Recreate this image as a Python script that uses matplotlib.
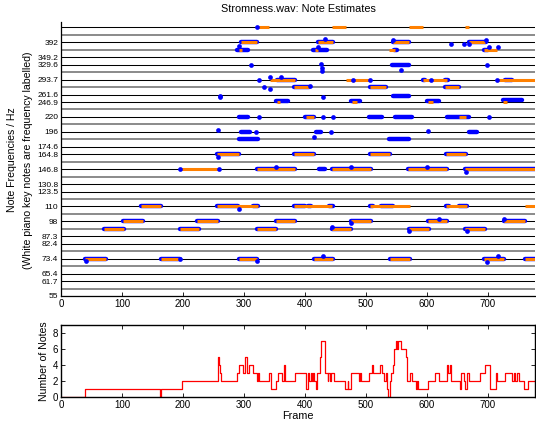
import matplotlib
matplotlib.use("Agg")
import matplotlib.pyplot as plt

plt.rcParams['font.family'] = ['Liberation Sans', 'DejaVu Sans']

# Detected notes: frequency (Hz), first frame, last frame
note_hz = [440, 440, 440, 440,
           392, 392, 392, 392,
           370, 370, 370, 370,
           293.7, 293.7, 293.7, 293.7,
           277.2, 277.2, 277.2,
           246.9, 246.9, 246.9, 246.9,
           220, 220,
           164.8, 164.8, 164.8, 164.8,
           146.8, 146.8, 146.8, 146.8, 146.8,
           110, 110, 110, 110, 110, 110,
           98, 98, 98, 98, 98, 98,
           92.5, 92.5, 92.5, 92.5, 92.5, 92.5,
           73.4, 73.4, 73.4, 73.4, 73.4, 73.4, 73.4]
note_on = [321, 445, 571, 662,
           295, 422, 545, 668,
           292, 416, 538, 694,
           342, 467, 593, 715,
           382, 506, 630,
           354, 477, 601, 725,
           401, 653,
           256, 382, 506, 631,
           195, 322, 445, 569, 662,
           131, 256, 382, 506, 631, 761,
           101, 223, 353, 475, 602, 727,
           71, 195, 322, 445, 570, 663,
           40, 164, 291, 414, 539, 694, 761]
note_off = [341, 467, 593, 668,
            322, 446, 571, 695,
            296, 422, 547, 714,
            384, 506, 633, 777,
            407, 533, 653,
            359, 485, 609, 731,
            415, 664,
            291, 415, 539, 664,
            259, 384, 508, 633, 777,
            164, 323, 445, 572, 665, 777,
            134, 258, 384, 508, 633, 761,
            103, 226, 353, 476, 603, 695,
            73, 195, 322, 446, 572, 727, 777]

# Raw pitch estimates: continuous runs (Hz, first frame, last frame)
run_hz = [392, 392, 392, 392,
          370, 370, 370, 370,
          329.6,
          293.7, 293.7, 293.7, 293.7,
          277.2, 277.2, 277.2,
          258,
          249, 249, 249, 250,
          220, 220, 220, 220, 220,
          196, 196, 196,
          185, 185,
          164.8, 164.8, 164.8, 164.8,
          146.8, 146.8, 146.8, 146.8, 146.8,
          110, 110, 110, 110, 110, 110, 110, 110, 110, 110,
          98, 98, 98, 98, 98, 98,
          92.5, 92.5, 92.5, 92.5, 92.5, 92.5,
          73.4, 73.4, 73.4, 73.4, 73.4, 73.4, 73.4]
run_on = [295, 422, 545, 668,
          288, 413, 546, 693,
          542,
          354, 593, 630, 728,
          382, 506, 630,
          545,
          352, 475, 600, 725,
          291, 400, 505, 548, 633,
          295, 418, 668,
          291, 537,
          256, 382, 506, 631,
          322, 423, 445, 569, 662,
          131, 256, 314, 382, 405, 440, 506, 524, 631, 652,
          101, 223, 353, 475, 602, 727,
          71, 195, 322, 445, 570, 663,
          40, 164, 291, 414, 539, 694, 761]
run_off = [322, 446, 571, 696,
           307, 436, 550, 700,
           570,
           384, 596, 634, 739,
           407, 533, 653,
           570,
           372, 490, 620, 755,
           307, 415, 526, 575, 668,
           310, 427, 682,
           323, 570,
           291, 415, 539, 664,
           384, 433, 508, 633, 777,
           164, 290, 323, 400, 410, 446, 512, 544, 636, 665,
           134, 258, 384, 508, 633, 761,
           103, 226, 353, 476, 603, 695,
           73, 195, 322, 446, 572, 727, 777]

# Raw pitch estimates: isolated points (Hz, frame)
dot_hz = [440, 403, 398, 388, 388, 388, 398,
          380, 377, 377, 377,
          329.6, 332, 322, 313, 315.5, 329.6,
          293.7, 299, 299, 293.7, 293.7, 293.7, 293.7,
          277.2, 273, 279,
          257, 259, 257,
          220, 220, 220, 220,
          199, 196, 196, 198,
          188, 161.5,
          146.8, 146.8, 149.3, 149.3, 149.3, 143.3,
          107.5, 99.7, 100, 96.5,
          91, 91, 94,
          72, 73.4, 72.2, 74.9, 71.5, 75.1]
dot_frame = [321, 432, 544, 639, 661, 669, 696,
             292, 422, 702, 717,
             311, 427, 428, 428, 558, 698,
             324, 343, 360, 479, 507, 606, 715,
             333, 343, 408,
             260, 261, 430,
             324, 430, 446, 702,
             258, 320, 442, 601,
             415, 258,
             195, 259, 352, 476, 600, 664,
             291, 619, 727, 475,
             571, 666, 445,
             41, 195, 322, 430, 698, 717]

# Number of simultaneous note estimates: frame where the count changes, new count
count_frames = [0, 40, 162, 164, 198, 257, 259, 261, 263, 289, 291, 298, 302, 305,
                308, 314, 321, 323, 325, 341, 344, 353, 356, 362, 366, 368, 384,
                402, 405, 407, 409, 411, 413, 415, 418, 420, 424, 426, 433, 437,
                438, 441, 443, 447, 465, 470, 471, 475, 489, 490, 491, 505, 509,
                511, 523, 527, 529, 533, 534, 536, 539, 541, 544, 546, 549, 551,
                553, 557, 566, 567, 572, 575, 582, 584, 586, 602, 613, 619, 632,
                635, 637, 640, 654, 656, 660, 662, 665, 668, 687, 695, 703, 713,
                715, 728, 739, 742, 744, 748, 751, 759, 766, 777]
count_values = [0, 1, 0, 1, 2, 5, 4, 3, 2, 3, 4, 3, 5, 3,
                4, 3, 2, 3, 2, 3, 1, 2, 3, 2, 4, 2, 3,
                1, 3, 2, 3, 2, 3, 2, 1, 3, 5, 7, 3, 2,
                3, 2, 3, 2, 1, 2, 1, 3, 2, 3, 2, 3, 4,
                3, 4, 3, 2, 3, 1, 0, 2, 3, 4, 6, 7, 6,
                7, 6, 5, 2, 3, 2, 1, 2, 1, 2, 3, 2, 4,
                3, 4, 2, 1, 3, 2, 1, 3, 2, 3, 4, 1, 3,
                2, 3, 2, 3, 2, 3, 2, 1, 2, 2]

# Piano-key grid from A1 upwards; labelled white keys
key_base_hz = 55.0
n_keys = 37
black_key_steps = {1, 4, 6, 9, 11}
tick_hz = [55, 61.7, 65.4, 73.4, 82.4, 87.3, 98, 110, 123.5, 130.8, 146.8,
           164.8, 174.6, 196, 220, 246.9, 261.6, 293.7, 329.6, 349.2, 392]
tick_text = ['55', '61.7', '65.4', '73.4', '82.4', '87.3', '98', '110', '123.5',
             '130.8', '146.8', '164.8', '174.6', '196', '220', '246.9', '261.6',
             '293.7', '329.6', '349.2', '392']
frame_ticks = [0, 100, 200, 300, 400, 500, 600, 700]

W, H = 536, 424
fig = plt.figure(figsize=(W / 100, H / 100), dpi=100)

# ---------------- note estimates ----------------
ax = fig.add_axes([61 / W, 128 / H, 474 / W, 274 / H])
ax.set_yscale('log', base=2)
ax.set_xlim(0, 777)
ax.set_ylim(55, 458.9)

for k in range(n_keys):
    f = key_base_hz * 2 ** (k / 12)
    if k % 12 in black_key_steps:
        ax.axhline(f, color='#8a8a8a', lw=1.4, zorder=1)
    else:
        ax.axhline(f, color='black', lw=0.75, zorder=1)

for hz, a, b in zip(run_hz, run_on, run_off):
    ax.plot([a, b], [hz, hz], color='#0000ff', lw=3.2,
            solid_capstyle='round', zorder=2)
for hz, a, b in zip(note_hz, note_on, note_off):
    ax.plot([a, b], [hz, hz], color='#ff8000', lw=2.2,
            solid_capstyle='butt', zorder=3)
ax.plot(dot_frame, dot_hz, 'o', color='#0000ff', ms=3.4, mec='none', zorder=4)

ax.yaxis.set_minor_locator(plt.NullLocator())
ax.set_yticks(tick_hz)
ax.set_yticklabels(tick_text)
ax.set_xticks(frame_ticks)
ax.tick_params(axis='y', direction='in', length=3, width=0.6, labelsize=6, pad=2)
ax.tick_params(axis='x', direction='in', length=3, width=0.6, labelsize=7, pad=2)
for side in ('top', 'right'):
    ax.spines[side].set_visible(False)
for side in ('left', 'bottom'):
    ax.spines[side].set_linewidth(0.9)
ax.set_title('Stromness.wav: Note Estimates', fontsize=7.8, pad=7)

fig.text(12 / W, 1 - 160 / H, 'Note Frequencies / Hz', rotation=90,
         ha='center', va='center', fontsize=7.6)
fig.text(28 / W, 1 - 160 / H, '(White piano key notes are frequency labelled)',
         rotation=90, ha='center', va='center', fontsize=7.6)

# ---------------- polyphony count ----------------
bx = fig.add_axes([61 / W, 26.7 / H, 474 / W, 72.3 / H])
bx.plot(count_frames, count_values, color='#ff0000', lw=0.9, drawstyle='steps-post')
bx.set_xlim(0, 777)
bx.set_ylim(0, 9)
bx.set_yticks([0, 2, 4, 6, 8])
bx.set_xticks(frame_ticks)
bx.tick_params(direction='in', length=3, width=0.6, labelsize=7, pad=2,
               top=True, right=True)
for s in bx.spines.values():
    s.set_linewidth(1.0)
bx.set_xlabel('Frame', fontsize=7.8, labelpad=1)
bx.set_ylabel('Number of Notes', fontsize=7.6, labelpad=3)

fig.savefig('out.png', dpi=100)
